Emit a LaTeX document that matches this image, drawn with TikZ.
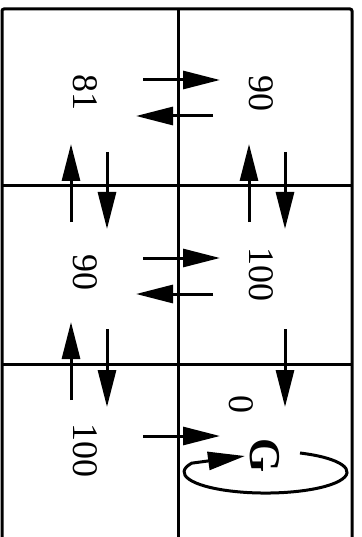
\documentclass[tikz,border=0pt]{standalone}
\usepackage{fontspec}
\setmainfont{Liberation Serif}
\usetikzlibrary{arrows.meta}
\begin{document}
\begin{tikzpicture}[x=1pt,y=-1pt,
  grid/.style={line width=3pt},
  arr/.style={line width=3pt,-{Triangle[length=37pt,width=18pt]}},
  lbl/.style={rotate=-90,inner sep=0pt,font=\fontsize{36}{36}\selectfont},
  goal/.style={rotate=-90,inner sep=0pt,font=\fontsize{44}{44}\selectfont\bfseries}]
\useasboundingbox (0,0) rectangle (361,537);
% grid
\draw[grid,rounded corners=2pt] (2,541) -- (2,9) -- (352,9) -- (352,541) -- cycle;
\draw[grid] (178,9) -- (178,541);
\draw[grid] (2,186) -- (352,186);
\draw[grid] (2,364) -- (352,364);
% labels
\node[lbl] (c11) at (85,93) {81};
\node[lbl] (c12) at (261,94) {90};
\node[lbl] (c21) at (85,272) {90};
\node[lbl] (c22) at (261,274) {100};
\node[lbl] (c31) at (85,450) {100};
\node[lbl] (c32) at (241,404) {0};
\node[goal] (G) at (265,456) {G};
% horizontal arrows
\draw[arr] (143,80) -- (220,80);
\draw[arr] (213,116) -- (136,116);
\draw[arr] (143,258) -- (220,258);
\draw[arr] (213,294) -- (136,294);
\draw[arr] (143,436) -- (220,436);
% vertical arrows
\draw[arr] (71,222) -- (71,144);
\draw[arr] (107,152) -- (107,229);
\draw[arr] (249,222) -- (249,144);
\draw[arr] (285,152) -- (285,229);
\draw[arr] (71,400) -- (71,322);
\draw[arr] (107,329) -- (107,407);
\draw[arr] (285,329) -- (285,407);
% self loop
\coordinate (tip) at (245,456);
\draw[arr] (300,453) arc[start angle=-65,end angle=205,x radius=81.5,y radius=21] -- (tip);
\end{tikzpicture}
\end{document}
